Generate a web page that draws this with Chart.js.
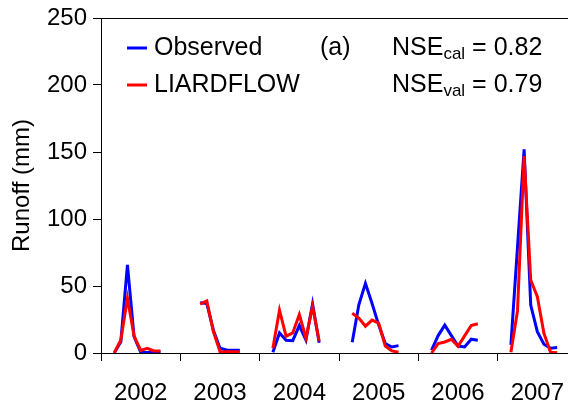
<!DOCTYPE html>
<html>
<head>
<meta charset="utf-8">
<script src="https://cdn.jsdelivr.net/npm/chart.js@4/dist/chart.umd.min.js"></script>
<style>
  html, body { margin: 0; padding: 0; background: #fff; overflow: hidden; }
  #wrap { position: absolute; left: 0; top: 0; width: 585px; height: 407px; }
</style>
</head>
<body>
<div id="wrap"><canvas id="runoff" width="585" height="407"></canvas></div>
<script>
// ===== Data =====
const years = ['2002', '2003', '2004', '2005', '2006', '2007'];
const months = [2, 3, 4, 5, 6, 7, 8, 9]; // month offset within each year slot

const observed = [
  [0, 8.4, 65.7, 12.2, 0.6, 0.4, 0.5, 1],
  [null, 37.5, 37, 17, 3.5, 2.2, 2, 2],
  [0.5, 15, 9.5, 9.2, 20.5, 9.7, 36.6, 7.7],
  [8, 36, 52, 37, 21, 7, 4.5, 5.5],
  [2.2, 13, 20.8, 13, 5.2, 4.5, 10.3, 9.5],
  [6, 79, 152, 35.8, 15.9, 6.6, 3.5, 4.1]
];
const liardflow = [
  [0, 9.7, 41, 12.7, 2, 3.5, 1.5, 1.4],
  [null, 36.5, 38.8, 16, 1, 1, 1, 1],
  [3.5, 32, 12.5, 15, 28.7, 11, 34.8, 9],
  [29.6, 26, 20, 24.6, 22.3, 5.2, 1.6, 0.5],
  [0, 7, 8.2, 10.2, 5, 12.8, 20.5, 21.8],
  [0.5, 31.4, 147, 54.5, 42, 14.7, 0.5, 0.1]
];

const yTicks = [0, 50, 100, 150, 200, 250];
const nseCal = '0.82';
const nseVal = '0.79';

const FONT = '"Liberation Sans", Arial, sans-serif';

// one point per month, with a null at the end of each year so seasons stay apart
function toPoints(series) {
  const pts = [];
  series.forEach((vals, yi) => {
    months.forEach((m, i) => pts.push({ x: yi * 12 + m, y: vals[i] }));
    pts.push({ x: yi * 12 + 11, y: null });
  });
  return pts;
}

// ===== Legend + labels drawn over the plot =====
const overlay = {
  id: 'overlay',
  afterDraw(chart) {
    const { ctx, chartArea } = chart;
    ctx.save();
    // top frame line
    ctx.strokeStyle = '#000';
    ctx.lineWidth = 1;
    ctx.beginPath();
    ctx.moveTo(chartArea.left, chartArea.top + 0.5);
    ctx.lineTo(chartArea.right, chartArea.top + 0.5);
    ctx.stroke();

    ctx.font = '25px ' + FONT;
    ctx.fillStyle = '#000';
    ctx.textBaseline = 'middle';
    const rows = [
      { y: 48, color: '#0000ff', label: 'Observed' },
      { y: 85, color: '#ff0000', label: 'LIARDFLOW' }
    ];
    rows.forEach(r => {
      ctx.strokeStyle = r.color;
      ctx.lineWidth = 3;
      ctx.beginPath();
      ctx.moveTo(127, r.y);
      ctx.lineTo(147, r.y);
      ctx.stroke();
      ctx.fillText(r.label, 154, r.y);
    });

    ctx.fillText('(a)', 320, 48);

    const nse = (y, sub, val) => {
      ctx.font = '25px ' + FONT;
      ctx.fillText('NSE', 392, y);
      let x = 392 + ctx.measureText('NSE').width;
      ctx.font = '17px ' + FONT;
      ctx.fillText(sub, x, y + 6);
      x += ctx.measureText(sub).width;
      ctx.font = '25px ' + FONT;
      ctx.fillText(' = ' + val, x, y);
    };
    nse(48, 'cal', nseCal);
    nse(85, 'val', nseVal);
    ctx.restore();
  }
};

// ===== Chart =====
const ctx = document.getElementById('runoff').getContext('2d');
new Chart(ctx, {
  type: 'line',
  data: {
    datasets: [
      {
        label: 'Observed',
        data: toPoints(observed),
        borderColor: '#0000ff',
        borderWidth: 3,
        pointRadius: 0,
        tension: 0,
        spanGaps: false,
        order: 1
      },
      {
        label: 'LIARDFLOW',
        data: toPoints(liardflow),
        borderColor: '#ff0000',
        borderWidth: 3,
        pointRadius: 0,
        tension: 0,
        spanGaps: false,
        order: 0
      }
    ]
  },
  options: {
    responsive: false,
    animation: false,
    layout: { padding: { top: 18, right: 8, left: 0, bottom: 0 } },
    plugins: {
      legend: { display: false },
      tooltip: { enabled: false }
    },
    scales: {
      x: {
        type: 'linear',
        min: 0,
        max: years.length * 12,
        afterFit: s => {
          s.height = 54;
          s.paddingLeft = 0;
          s.paddingRight = 0;
        },
        afterBuildTicks: s => {
          const t = [];
          for (let v = 0; v <= years.length * 12; v += 6) t.push({ value: v });
          s.ticks = t;
        },
        grid: {
          drawOnChartArea: false,
          drawTicks: true,
          tickLength: 8,
          color: c => (c.tick && c.tick.value % 12 === 0) ? '#000' : 'rgba(0,0,0,0)'
        },
        border: { display: true, color: '#000', width: 1 },
        ticks: {
          autoSkip: false,
          maxRotation: 0,
          padding: 18,
          color: '#000',
          font: { family: FONT, size: 24 },
          callback: v => (v % 12 === 6 ? years[(v - 6) / 12] : '')
        }
      },
      y: {
        min: 0,
        max: 250,
        afterFit: s => {
          s.width = 101;
          s.paddingTop = 0;
          s.paddingBottom = 0;
        },
        afterBuildTicks: s => { s.ticks = yTicks.map(v => ({ value: v })); },
        grid: {
          drawOnChartArea: false,
          drawTicks: true,
          tickLength: 8,
          color: '#000'
        },
        border: { display: true, color: '#000', width: 1 },
        ticks: {
          padding: 6,
          color: '#000',
          font: { family: FONT, size: 24 }
        },
        title: {
          display: true,
          text: 'Runoff (mm)',
          color: '#000',
          font: { family: FONT, size: 24 },
          padding: { top: 8, bottom: 0 }
        }
      }
    }
  },
  plugins: [overlay]
});
</script>
</body>
</html>
